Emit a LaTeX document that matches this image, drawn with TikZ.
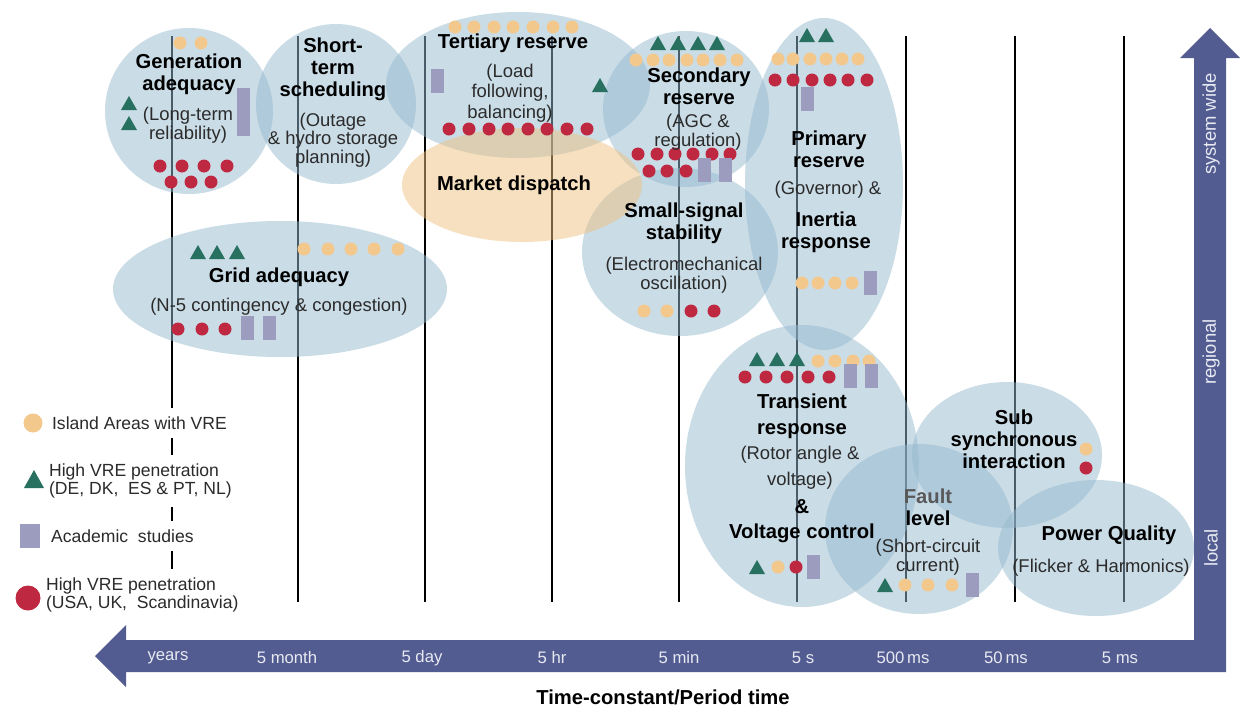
\documentclass[tikz,border=0pt]{standalone}
\usepackage{fontspec}
\setmainfont{Liberation Sans}

\definecolor{zoneblue}{RGB}{149,185,206}
\definecolor{marketorange}{RGB}{237,193,127}
\definecolor{islandorange}{RGB}{242,200,140}
\definecolor{crimson}{RGB}{190,40,65}
\definecolor{vregreen}{RGB}{40,112,95}
\definecolor{studyviolet}{RGB}{156,156,190}
\definecolor{band}{RGB}{82,92,145}
\definecolor{notegray}{RGB}{43,43,43}
\definecolor{ticktext}{RGB}{232,234,242}

\newcommand{\isle}[2]{\fill[islandorange] (#1,#2) circle (6.5);}
\newcommand{\usadot}[2]{\fill[crimson] (#1,#2) circle (6.5);}
\newcommand{\vretri}[2]{\fill[vregreen] (#1-8,#2+7) -- ++(16,0) -- ++(-8,-14) -- cycle;}
\newcommand{\studybar}[2]{\fill[studyviolet] (#1,#2) rectangle ++(13,24);}

\begin{document}
\begin{tikzpicture}[x=0.02cm,y=-0.02cm,
        zone/.style={fill=zoneblue,fill opacity=.5},
        headline/.style={font=\fontsize{11.5}{12.5}\selectfont\bfseries,align=center,inner sep=0pt},
        zonetext/.style={font=\fontsize{10.5}{10.5}\selectfont,align=center,text=notegray,inner sep=0pt},
        keytext/.style={font=\fontsize{10}{10.5}\selectfont,align=left,anchor=west,fill=white,
            inner xsep=1pt,inner ysep=5pt,text=notegray},
        timelabel/.style={font=\fontsize{9.5}{10}\selectfont,text=ticktext},
    ]
        \useasboundingbox (0,0) rectangle (1241,711);

        \foreach \x in {172,298,425,552,679,797,906,1015,1124}{
            \draw[line width=1.1pt] (\x,36) -- (\x,602);
        }

        % zones
        \fill[zone] (189,111) ellipse [x radius=84, y radius=83];
        \fill[zone] (336,104) ellipse [x radius=80, y radius=80];
        \fill[zone] (518,85) ellipse [x radius=132, y radius=73];
        \fill[zone] (686,109) ellipse [x radius=83, y radius=78];
        \fill[zone] (824,184) ellipse [x radius=79, y radius=166];
        \fill[zone] (680,252) ellipse [x radius=98, y radius=84];
        \fill[zone] (280,289) ellipse [x radius=167, y radius=68];
        \fill[zone] (802,466) ellipse [x radius=117, y radius=141];
        \fill[zone] (919,529) ellipse [x radius=94, y radius=85];
        \fill[zone] (1007,455) ellipse [x radius=95, y radius=73];
        \fill[zone] (1096,548) ellipse [x radius=98, y radius=68];
        \fill[marketorange,fill opacity=.5] (522,185) ellipse [x radius=120, y radius=57];

        % markers
        \foreach \x in {180,201} {\isle{\x}{43}}
        \vretri{129}{103}
        \vretri{129}{123}
        \fill[studyviolet] (237,88) rectangle ++(13,48);
        \foreach \x in {160,182,204,227} {\usadot{\x}{166}}
        \foreach \x in {171,191,211} {\usadot{\x}{182}}

        \foreach \x in {455,474,494,513,533,553,572} {\isle{\x}{27}}
        \studybar{431}{69}
        \vretri{600}{85}
        \foreach \x in {449,469,489,508,528,547,567,587} {\usadot{\x}{129}}

        \foreach \x in {658,678,698,717} {\vretri{\x}{43}}
        \foreach \x in {636,653,669,687,703,720,737} {\isle{\x}{60}}
        \foreach \x in {638,657,675,693,712,730} {\usadot{\x}{154}}
        \foreach \x in {649,667,686} {\usadot{\x}{171}}
        \studybar{698}{158}
        \studybar{719}{158}

        \foreach \x in {807,826} {\vretri{\x}{35}}
        \foreach \x in {778,793,810,826,842,858} {\isle{\x}{59}}
        \foreach \x in {775,793,812,830,848,867} {\usadot{\x}{80}}
        \studybar{801}{87}
        \foreach \x in {802,818,835,852} {\isle{\x}{283}}
        \studybar{864}{271}

        \foreach \x in {644,667} {\isle{\x}{311}}
        \foreach \x in {691,714} {\usadot{\x}{311}}

        \foreach \x in {198,217,237} {\vretri{\x}{252}}
        \foreach \x in {304,328,351,374,398} {\isle{\x}{249}}
        \foreach \x in {178,202,225} {\usadot{\x}{329}}
        \studybar{241}{316}
        \studybar{263}{316}

        \foreach \x in {757,777,797} {\vretri{\x}{359}}
        \foreach \x in {818,835,853,869} {\isle{\x}{361}}
        \foreach \x in {745,766,787,808,829} {\usadot{\x}{377}}
        \studybar{844}{364}
        \studybar{865}{364}
        \vretri{757}{567}
        \isle{778}{567}
        \usadot{796}{567}
        \studybar{807}{555}

        \vretri{885}{585}
        \foreach \x in {905,928,952} {\isle{\x}{585}}
        \studybar{966}{573}

        \isle{1086}{449}
        \usadot{1086}{468}

        % zone texts
        \node[headline] (genTitle) at (189,74) {Generation\\adequacy};
        \node[zonetext] (genNote) at (188,125) {(Long-term\\reliability)};
        \node[headline] (schedTitle) at (333,69) {Short-\\term\\scheduling};
        \node[zonetext] (schedNote) at (333,140) {(Outage\\\& hydro storage\\planning)};
        \node[headline] (tertTitle) at (513,43) {Tertiary reserve};
        \node[zonetext,font=\fontsize{10.5}{11.6}\selectfont] (tertNote) at (510,93) {(Load\\following,\\balancing)};
        \node[headline] (marketTitle) at (514,185) {Market dispatch};
        \node[headline] (secTitle) at (699,86) {Secondary\\reserve};
        \node[zonetext] (secNote) at (698,132) {(AGC \&\\regulation)};
        \node[headline] (primTitle) at (829,149) {Primary\\reserve};
        \node[zonetext] (primNote) at (828,190) {(Governor) \&};
        \node[headline] (inertTitle) at (826,232) {Inertia\\response};
        \node[headline] (smallTitle) at (684,223) {Small-signal\\stability};
        \node[zonetext] (smallNote) at (684,275) {(Electromechanical\\oscillation)};
        \node[headline] (gridTitle) at (279,277) {Grid adequacy};
        \node[zonetext] (gridNote) at (279,307) {(N-5 contingency \& congestion)};
        \node[headline,font=\fontsize{11.5}{14.8}\selectfont\bfseries] (transTitle) at (802,416) {Transient\\response};
        \node[zonetext,font=\fontsize{10.5}{14.8}\selectfont] (transNote) at (800,468) {(Rotor angle \&\\voltage)};
        \node[headline] (transAmp) at (802,507) {\&};
        \node[headline] (voltTitle) at (802,533) {Voltage control};
        \node[headline] (faultTitle) at (928,507) {{\color{black!65}Fault}\\level};
        \node[zonetext] (faultNote) at (928,557) {(Short-circuit\\current)};
        \node[headline] (subTitle) at (1014,439) {Sub\\synchronous\\interaction};
        \node[headline] (pqTitle) at (1109,535) {Power Quality};
        \node[zonetext] (pqNote) at (1101,568) {(Flicker \& Harmonics)};

        % legend
        \fill[islandorange] (33,423) circle (9.5);
        \node[keytext] (keyIsland) at (50,423) {Island Areas with VRE};
        \fill[vregreen] (24,488) -- (44,488) -- (34,470) -- cycle;
        \node[keytext] (keyVre) at (47,481) {High VRE penetration\\(DE, DK,\ \ ES \& PT, NL)};
        \fill[studyviolet] (20,524) rectangle (40,548);
        \node[keytext] (keyStudy) at (49,536) {Academic\ \ studies};
        \fill[crimson] (28,598) circle (12.5);
        \node[keytext] (keyUsa) at (44,595) {High VRE penetration\\(USA, UK,\ \ Scandinavia)};

        % axes
        \fill[band] (95,656) -- (126,625) -- (126,640) -- (1194,640) -- (1194,58) -- (1180,58)
            -- (1210,28) -- (1240,58) -- (1226,58) -- (1226,672) -- (126,672) -- (126,687) -- cycle;
        \foreach \x/\t [count=\i] in {168/years,287/5 month,422/5 day,552/5 hr,679/5 min,
                803/5 s,903/500\,ms,1006/50\,ms,1120/5 ms}{
            \node[timelabel] (T\i) at (\x,658) {\t};
        }
        \node[timelabel,font=\fontsize{10.5}{11}\selectfont,rotate=90] (sysWide) at (1211,124) {system wide};
        \node[timelabel,font=\fontsize{10.5}{11}\selectfont,rotate=90] (regional) at (1211,352) {regional};
        \node[timelabel,font=\fontsize{10.5}{11}\selectfont,rotate=90] (local) at (1211,548) {local};
        \node[font=\fontsize{11.5}{12}\selectfont\bfseries] (axisTitle) at (663,697) {Time-constant/Period time};
    \end{tikzpicture}
\end{document}
